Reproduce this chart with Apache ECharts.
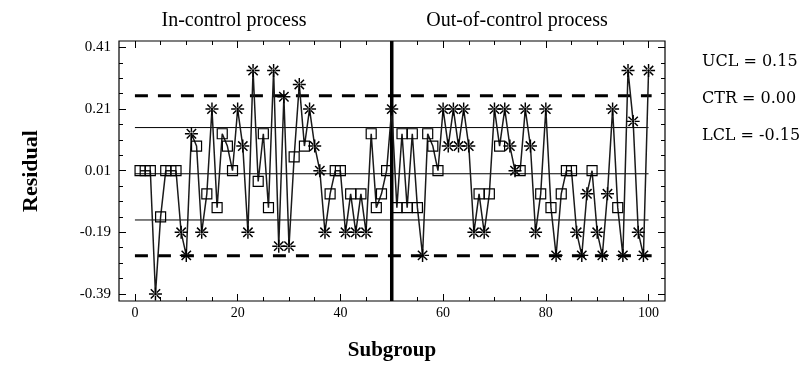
<!DOCTYPE html>
<html>
<head>
<meta charset="utf-8">
<script src="https://cdn.jsdelivr.net/npm/echarts@6/dist/echarts.min.js"></script>
<style>
  html, body { margin: 0; padding: 0; background: #fff; }
  #chart { width: 807px; height: 375px; }
</style>
</head>
<body>
<div id="chart"></div>
<script>
// residual per subgroup (1..100)
const residuals = [
  0.01, 0.01, 0.01, -0.39, -0.14, 0.01, 0.01, 0.01, -0.19, -0.265,
  0.13, 0.09, -0.19, -0.065, 0.21, -0.11, 0.13, 0.09, 0.01, 0.21,
  0.09, -0.19, 0.335, -0.025, 0.13, -0.11, 0.335, -0.235, 0.25, -0.235,
  0.055, 0.29, 0.09, 0.21, 0.09, 0.01, -0.19, -0.065, 0.01, 0.01,
  -0.19, -0.065, -0.19, -0.065, -0.19, 0.13, -0.11, -0.065, 0.01, 0.21,
  -0.11, 0.13, -0.11, 0.13, -0.11, -0.265, 0.13, 0.09, 0.01, 0.21,
  0.09, 0.21, 0.09, 0.21, 0.09, -0.19, -0.065, -0.19, -0.065, 0.21,
  0.09, 0.21, 0.09, 0.01, 0.01, 0.21, 0.09, -0.19, -0.065, 0.21,
  -0.11, -0.265, -0.065, 0.01, 0.01, -0.19, -0.265, -0.065, 0.01, -0.19,
  -0.265, -0.065, 0.21, -0.11, -0.265, 0.335, 0.17, -0.19, -0.265, 0.335
];
// S = square marker, A = asterisk marker
const markers = [
  'S','S','S','A','S','S','S','S','A','A',
  'A','S','A','S','A','S','S','S','S','A',
  'A','A','A','S','S','S','A','A','A','A',
  'S','A','S','A','A','A','A','S','S','S',
  'A','S','A','S','A','S','S','S','S','A',
  'S','S','S','S','S','A','S','S','S','A',
  'A','A','A','A','A','A','S','A','S','A',
  'S','A','A','A','S','A','A','A','S','A',
  'S','A','S','S','S','A','A','A','S','A',
  'A','A','A','S','A','A','A','A','A','A'
];

const ucl = 0.15;
const ctr = 0.00;
const lcl = -0.15;
const upperWarn = 0.253;
const lowerWarn = -0.266;
const changePoint = 50;

const xRange = [-3.1, 103.2];
const yRange = [-0.413, 0.431];
const xMajorTicks = [0, 20, 40, 60, 80, 100];
const xMinorTicks = [0, 5, 10, 15, 20, 25, 30, 35, 40, 45, 50, 55, 60, 65, 70, 75, 80, 85, 90, 95, 100];
const yMajorTicks = [-0.39, -0.19, 0.01, 0.21, 0.41];
const yMinorTicks = [-0.39, -0.34, -0.29, -0.24, -0.19, -0.14, -0.09, -0.04, 0.01,
  0.06, 0.11, 0.16, 0.21, 0.26, 0.31, 0.36, 0.41];

const leftTitle = 'In-control process';
const rightTitle = 'Out-of-control process';

const serif = '"Liberation Serif", "Times New Roman", serif';
const asterisk = 'path://M8.9,0H11.1V20H8.9Z M0,8.9H20V11.1H0Z M2,3.6L3.6,2L18,16.4L16.4,18Z M16.4,2L18,3.6L3.6,18L2,16.4Z M7,10A3,3 0 1,0 13,10A3,3 0 1,0 7,10Z';

const chart = echarts.init(document.getElementById('chart'), null, { renderer: 'canvas' });

const pointData = residuals.map((v, i) => {
  if (markers[i] === 'A') {
    return { value: [i + 1, v], symbol: asterisk, symbolSize: 13,
      itemStyle: { color: '#000', borderWidth: 0 } };
  }
  return { value: [i + 1, v], symbol: 'rect', symbolSize: 10,
    itemStyle: { color: 'rgba(0,0,0,0)', borderColor: '#000', borderWidth: 1.2 } };
});

const hLine = (y, x0, x1, type, width) => ({
  type: 'line', silent: true, symbol: 'none', z: 1,
  data: [[x0, y], [x1, y]],
  lineStyle: { color: '#000', width: width, type: type }
});

const xAxisBase = (pos, ticks, len, labels) => ({
  type: 'value', position: pos, min: xRange[0], max: xRange[1],
  axisLine: { show: false, onZero: false },
  splitLine: { show: false },
  axisTick: { inside: true, length: len, customValues: ticks, lineStyle: { color: '#000' } },
  axisLabel: labels
    ? { customValues: labels, color: '#000', fontFamily: serif, fontSize: 14, margin: 5 }
    : { show: false }
});
const yAxisBase = (pos, ticks, len, labels) => ({
  type: 'value', position: pos, min: yRange[0], max: yRange[1],
  axisLine: { show: false, onZero: false },
  splitLine: { show: false },
  axisTick: { inside: true, length: len, customValues: ticks, lineStyle: { color: '#000' } },
  axisLabel: labels
    ? { customValues: labels, color: '#000', fontFamily: serif, fontSize: 15, margin: 8,
        formatter: (v) => v.toFixed(2) }
    : { show: false }
});

const xMain = xAxisBase('bottom', xMajorTicks, 7, xMajorTicks);
xMain.name = 'Subgroup';
xMain.nameLocation = 'middle';
xMain.nameGap = 39;
xMain.nameTextStyle = { fontFamily: serif, fontSize: 21, fontWeight: 'bold', color: '#000' };

const yMain = yAxisBase('left', yMajorTicks, 7, yMajorTicks);
yMain.name = 'Residual';
yMain.nameLocation = 'middle';
yMain.nameGap = 77;
yMain.nameTextStyle = { fontFamily: serif, fontSize: 22, fontWeight: 'bold', color: '#000' };

const legendStyle = { fontFamily: '"DejaVu Serif", serif', fontSize: 16, fontWeight: 'normal', color: '#000' };

const option = {
  animation: false,
  backgroundColor: '#fff',
  title: [
    { text: leftTitle, left: 229, top: 6, textAlign: 'center',
      textStyle: { fontFamily: serif, fontSize: 20, fontWeight: 'normal', color: '#000' } },
    { text: rightTitle, left: 512, top: 6, textAlign: 'center',
      textStyle: { fontFamily: serif, fontSize: 20, fontWeight: 'normal', color: '#000' } },
    { text: 'UCL = ' + ucl.toFixed(2), left: 697, top: 49, textStyle: legendStyle },
    { text: 'CTR = ' + ctr.toFixed(2), left: 697, top: 86, textStyle: legendStyle },
    { text: 'LCL = ' + lcl.toFixed(2), left: 697, top: 123, textStyle: legendStyle }
  ],
  grid: {
    left: 119, top: 41, width: 546, height: 260,
    show: true, borderColor: '#000', borderWidth: 1.2, backgroundColor: 'transparent'
  },
  xAxis: [
    xMain,
    xAxisBase('bottom', xMinorTicks, 4, null),
    xAxisBase('top', xMajorTicks, 7, null),
    xAxisBase('top', xMinorTicks, 4, null)
  ],
  yAxis: [
    yMain,
    yAxisBase('left', yMinorTicks, 4, null),
    yAxisBase('right', yMajorTicks, 7, null),
    yAxisBase('right', yMinorTicks, 4, null)
  ],
  series: [
    hLine(ucl, 0, 100, 'solid', 1),
    hLine(ctr, 0, 100, 'solid', 1),
    hLine(lcl, 0, 100, 'solid', 1),
    hLine(upperWarn, 0, 100.6, [13, 10], 3),
    hLine(lowerWarn, 0, 100.6, [13, 10], 3),
    {
      type: 'line', silent: true, symbol: 'none', z: 3,
      data: [[changePoint, yRange[0]], [changePoint, yRange[1]]],
      lineStyle: { color: '#000', width: 3.5 }
    },
    {
      type: 'line', z: 4,
      data: pointData,
      showSymbol: true,
      lineStyle: { color: '#1a1a1a', width: 1.5 }
    }
  ]
};

chart.setOption(option);
</script>
</body>
</html>
